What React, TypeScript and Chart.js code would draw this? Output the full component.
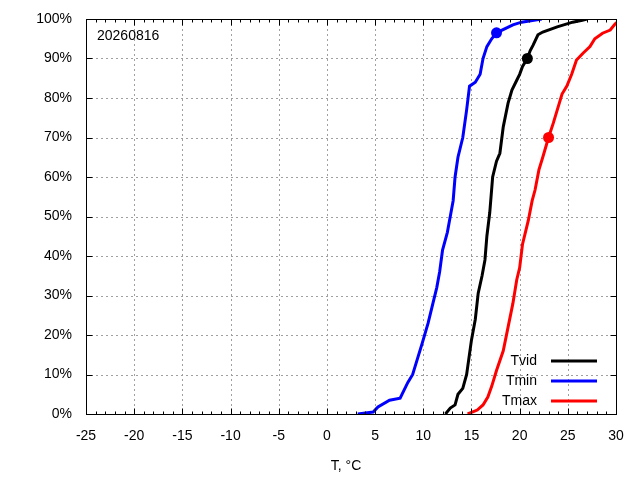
import React, { useEffect, useRef } from "react";
import { Chart, registerables } from "chart.js";

Chart.register(...registerables);

const dateLabel = "20260816";
const seriesNames = ["Tvid", "Tmin", "Tmax"];

const tvidTemps = [12.3, 12.8, 13.3, 13.6, 14.1, 14.5, 15.0, 15.4, 15.7, 16.1, 16.4, 16.6, 16.9, 17.2, 17.6, 17.95, 18.3, 18.8, 19.2, 19.7, 20.0, 20.3, 20.8, 21.1, 21.4, 21.9, 22.4, 23.9, 25.5, 26.5, 27.0];
const tvidShares = [0, 1.5, 2.3, 5, 6.5, 10, 18.7, 24, 30.6, 35, 39, 45, 51, 60, 64, 66, 72.7, 78.7, 82, 84.5, 86, 88, 90, 92, 93.4, 96, 96.7, 98, 99.2, 99.7, 100];

const tminTemps = [3.2, 4.8, 5.3, 6.5, 7.6, 8.4, 8.9, 9.9, 10.5, 11.0, 11.4, 11.7, 12.0, 12.5, 12.8, 13.1, 13.3, 13.6, 14.1, 14.5, 14.8, 15.4, 15.9, 16.2, 16.6, 17.1, 17.6, 19.3, 20.2, 22.3];
const tminShares = [0, 0.5, 1.8, 3.5, 4, 8, 10, 18, 23, 28, 32, 36, 41.5, 46, 50, 54, 60, 65, 70, 77, 83, 84, 86, 90, 93, 95, 96.5, 98.5, 99.2, 100];

const tmaxTemps = [14.6, 15.6, 16.2, 16.7, 17.1, 17.6, 18.3, 18.8, 19.3, 19.7, 20.0, 20.3, 20.9, 21.3, 21.6, 22.0, 22.4, 23.0, 23.5, 24.4, 24.9, 25.4, 25.9, 26.6, 27.3, 27.8, 28.6, 29.4, 29.9, 30.5];
const tmaxShares = [0, 1, 2.3, 4.3, 7, 11, 16, 22, 28, 34, 37, 43, 49, 54, 56.7, 61.8, 65, 70, 73.7, 81, 83, 86, 89.6, 91.4, 93, 95, 96.4, 97.2, 98.7, 100];

// highlighted points: [temperature, share] for Tvid, Tmin, Tmax
const markerTemps = [20.8, 17.6, 23.0];
const markerShares = [90, 96.5, 70];

const colors = ["#000000", "#0000ff", "#ff0000"];
const FONT = "'Liberation Sans', Arial, sans-serif";

const toPoints = (xs: number[], ys: number[]) => xs.map((x, i) => ({ x, y: ys[i] }));

const framePlugin = {
    id: "gnuframe",
    beforeDatasetsDraw(chart: any) {
        const { ctx, chartArea: a, scales } = chart;
        ctx.save();
        ctx.strokeStyle = "#a0a0a0";
        ctx.lineWidth = 1;
        ctx.setLineDash([2, 3]);
        scales.x.ticks.forEach((t: any) => {
            if (t.value <= scales.x.min || t.value >= scales.x.max) return;
            const x = Math.round(scales.x.getPixelForValue(t.value)) + 0.5;
            ctx.beginPath();
            ctx.moveTo(x, a.top);
            ctx.lineTo(x, a.bottom);
            ctx.stroke();
        });
        scales.y.ticks.forEach((t: any) => {
            if (t.value <= scales.y.min || t.value >= scales.y.max) return;
            const y = Math.round(scales.y.getPixelForValue(t.value)) + 0.5;
            ctx.beginPath();
            ctx.moveTo(a.left, y);
            ctx.lineTo(a.right, y);
            ctx.stroke();
        });
        ctx.restore();
    },
    afterDatasetsDraw(chart: any) {
        const { ctx, chartArea: a, scales } = chart;
        const l = Math.round(a.left) + 0.5;
        const r = Math.round(a.right) + 0.5;
        const t = Math.round(a.top) + 0.5;
        const b = Math.round(a.bottom) + 0.5;
        ctx.save();
        ctx.strokeStyle = "#000";
        ctx.lineWidth = 1;
        ctx.setLineDash([]);
        ctx.strokeRect(l, t, r - l, b - t);

        ctx.beginPath();
        for (let v = scales.x.min; v <= scales.x.max; v += 1) {
            const x = Math.round(scales.x.getPixelForValue(v)) + 0.5;
            const len = v % 5 === 0 ? 6 : 3;
            ctx.moveTo(x, b);
            ctx.lineTo(x, b - len);
            ctx.moveTo(x, t);
            ctx.lineTo(x, t + len);
        }
        scales.y.ticks.forEach((tk: any) => {
            const y = Math.round(scales.y.getPixelForValue(tk.value)) + 0.5;
            ctx.moveTo(l, y);
            ctx.lineTo(l + 6, y);
            ctx.moveTo(r, y);
            ctx.lineTo(r - 6, y);
        });
        ctx.stroke();

        ctx.fillStyle = "#000";
        ctx.font = `14px ${FONT}`;
        ctx.textBaseline = "middle";
        ctx.textAlign = "left";
        ctx.fillText(dateLabel, a.left + 11, a.top + 17);

        ctx.textAlign = "center";
        ctx.fillText("T, °C", (a.left + a.right) / 2 - 5, 466);

        ctx.textAlign = "right";
        ctx.lineWidth = 3;
        seriesNames.forEach((name, i) => {
            const y = a.bottom - 53 + i * 20;
            ctx.fillStyle = "#000";
            ctx.fillText(name, a.right - 79, y);
            ctx.strokeStyle = colors[i];
            ctx.beginPath();
            ctx.moveTo(a.right - 65, y);
            ctx.lineTo(a.right - 19, y);
            ctx.stroke();
        });
        ctx.restore();
    },
};

const App = () => {
    const canvasRef = useRef<HTMLCanvasElement | null>(null);

    useEffect(() => {
        document.body.style.margin = "0";
        const ctx = canvasRef.current?.getContext("2d");
        if (!ctx) return;

        const curves = [
            toPoints(tvidTemps, tvidShares),
            toPoints(tminTemps, tminShares),
            toPoints(tmaxTemps, tmaxShares),
        ];

        const datasets: any[] = curves.map((data, i) => ({
            label: seriesNames[i],
            data,
            borderColor: colors[i],
            borderWidth: 3,
            pointRadius: 0,
            tension: 0,
            fill: false,
        }));
        markerTemps.forEach((x, i) => {
            datasets.push({
                label: seriesNames[i] + " mark",
                data: [{ x, y: markerShares[i] }],
                showLine: false,
                pointRadius: 5.5,
                pointBackgroundColor: colors[i],
                pointBorderColor: colors[i],
                pointBorderWidth: 0,
            });
        });

        const chart = new Chart(ctx, {
            type: "line",
            data: { datasets },
            options: {
                animation: false,
                responsive: false,
                layout: { padding: { top: 19, right: 24, left: 0, bottom: 0 } },
                plugins: { legend: { display: false }, tooltip: { enabled: false } },
                scales: {
                    x: {
                        type: "linear",
                        min: -25,
                        max: 30,
                        grid: { display: false, drawTicks: false },
                        border: { display: false },
                        ticks: { stepSize: 5, color: "#000", padding: 14, font: { family: FONT, size: 14 } },
                        afterFit: (s: any) => {
                            s.height = 66;
                            s.paddingLeft = 0;
                            s.paddingRight = 0;
                        },
                    },
                    y: {
                        min: 0,
                        max: 100,
                        grid: { display: false, drawTicks: false },
                        border: { display: false },
                        ticks: {
                            stepSize: 10,
                            color: "#000",
                            padding: 14,
                            font: { family: FONT, size: 14 },
                            callback: (v: any) => v + "%",
                        },
                        afterFit: (s: any) => {
                            s.width = 86;
                            s.paddingTop = 0;
                            s.paddingBottom = 0;
                        },
                    },
                },
            },
            plugins: [framePlugin],
        });

        return () => {
            chart.destroy();
        };
    }, []);

    return (
        <div>
            <canvas ref={canvasRef} width={640} height={480} />
        </div>
    );
};

export default App;
